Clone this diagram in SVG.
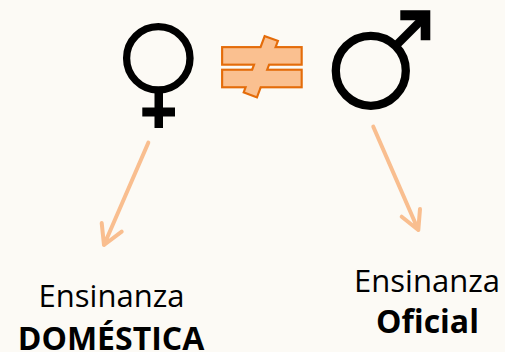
<svg xmlns="http://www.w3.org/2000/svg" width="505" height="352" viewBox="0 0 505 352">
<defs>
<style>
.sym{fill:none;stroke:#000}
.neq{fill:#FAC090;stroke:#E46C0A;stroke-width:4.3}
.neqf{fill:#FAC090;stroke:none}
.conn{fill:none;stroke:#F9BE8F;stroke-width:4;stroke-linecap:round;stroke-linejoin:round}
.t{font-family:"Open Sans","Liberation Sans",sans-serif;font-size:31px;fill:#000;text-anchor:middle}
.b{font-weight:bold}
</style>
</defs>
<rect width="505" height="352" fill="#FCFAF5"/>
<g id="female">
<circle class="sym" cx="158.3" cy="58.3" r="31.7" stroke-width="7.3"/>
<rect x="154.5" y="92" width="8.5" height="36" fill="#000"/>
<rect x="142.3" y="107.5" width="32.7" height="9" fill="#000"/>
</g>
<g id="notequal">
<rect class="neq" x="223.2" y="48.2" width="77.4" height="15.4"/>
<rect class="neq" x="223.2" y="70.8" width="77.4" height="15.4"/>
<rect class="neq" x="-6" y="-29" width="12" height="58" transform="translate(260.8,66.7) rotate(20.4)"/>
<rect class="neqf" x="223.2" y="48.2" width="77.4" height="15.4"/>
<rect class="neqf" x="223.2" y="70.8" width="77.4" height="15.4"/>
<rect class="neqf" x="-6" y="-29" width="12" height="58" transform="translate(260.8,66.7) rotate(20.4)"/>
</g>
<g id="male">
<circle class="sym" cx="370.8" cy="70.8" r="35" stroke-width="8.3"/>
<line class="sym" x1="394" y1="47.5" x2="424" y2="17.5" stroke-width="8.3"/>
<polygon points="400.3,10.3 430.3,10.3 430.3,40.3 420.7,40.3 420.7,20.3 400.3,20.3" fill="#000"/>
</g>
<g id="connectors">
<path class="conn" d="M148.3,142.7 L104,245 M101.7,223 L104,245 L121.7,231.7"/>
<path class="conn" d="M373.3,126.7 L418.3,230 M401.7,216.7 L418.3,230 L420,209"/>
</g>
<g id="label-left">
<text class="t" x="111.5" y="306.5">Ensinanza</text>
<text class="t b" x="111" y="350" style="font-size:32px">DOMÉSTICA</text>
</g>
<g id="label-right">
<text class="t" x="427" y="291.7">Ensinanza</text>
<text class="t b" x="427.5" y="333" style="font-size:32px">Oficial</text>
</g>
</svg>
